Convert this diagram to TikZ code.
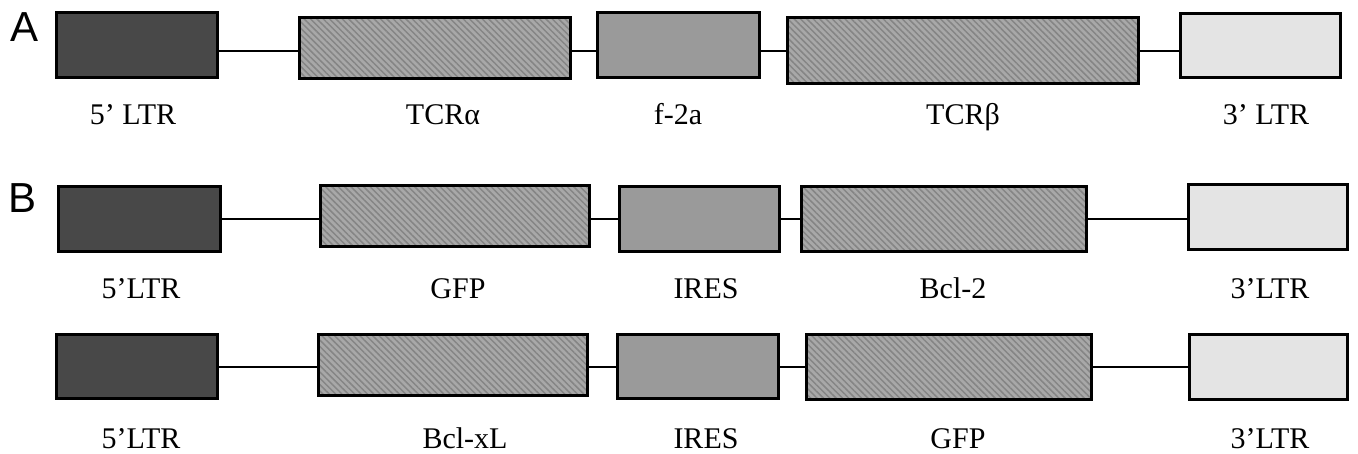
\documentclass[tikz,border=0pt]{standalone}
\usepackage{fontspec}
\setmainfont{Liberation Serif}
\newfontfamily\panelfont{Liberation Sans}
\usetikzlibrary{patterns.meta}
\definecolor{ltrdark}{HTML}{484848}
\definecolor{ltrlight}{HTML}{E4E4E4}
\definecolor{linker}{HTML}{9A9A9A}
\definecolor{genefill}{HTML}{A8A8A8}
\definecolor{genestripe}{HTML}{858585}
\tikzset{
  seg/.style={draw=black, line width=3pt, inner sep=0pt, outer sep=0pt},
  ltrfive/.style={seg, fill=ltrdark},
  ltrthree/.style={seg, fill=ltrlight},
  linkbox/.style={seg, fill=linker},
  genebox/.style={seg, preaction={fill=genefill},
    pattern={Lines[angle=-45,distance=4.5pt,line width=1.5pt]}, pattern color=genestripe},
  bx/.style n args={2}{minimum width=#1pt, minimum height=#2pt},
  link/.style={draw=black, line width=2.3pt},
  lbl/.style={font=\fontsize{30}{32}\selectfont, anchor=base, inner sep=0pt},
  panel/.style={font=\panelfont\fontsize{42}{44}\selectfont, inner sep=0pt}
}
\begin{document}
\begin{tikzpicture}[x=1pt,y=-1pt]
\useasboundingbox (0,0) rectangle (1358,453);

% panel letters
\node[panel] (pA) at (25,27) {A};
\node[panel] (pB) at (23,198) {B};

% ---- construct A ----
\node[ltrfive, bx={161}{65}] (a1) at (137,45) {};
\node[genebox, bx={271}{61}] (a2) at (435,48) {};
\node[linkbox, bx={162}{65}] (a3) at (678.5,45) {};
\node[genebox, bx={351}{66}] (a4) at (963,50.5) {};
\node[ltrthree, bx={160}{64}] (a5) at (1260.5,45.5) {};
\coordinate (yA) at (0,51);
\draw[link] (a1.east |- yA) -- (a2.west |- yA);
\draw[link] (a2.east |- yA) -- (a3.west |- yA);
\draw[link] (a3.east |- yA) -- (a4.west |- yA);
\draw[link] (a4.east |- yA) -- (a5.west |- yA);
\node[lbl] (la1) at (133,124) {5’ LTR};
\node[lbl] (la2) at (443,124) {TCRα};
\node[lbl] (la3) at (678,124) {f-2a};
\node[lbl] (la4) at (963,124) {TCRβ};
\node[lbl] (la5) at (1266,124) {3’ LTR};

% ---- construct B, first line ----
\node[ltrfive, bx={162}{65}] (b1) at (139.5,219) {};
\node[genebox, bx={269}{61}] (b2) at (455,216) {};
\node[linkbox, bx={160}{65}] (b3) at (699.5,219) {};
\node[genebox, bx={285}{65}] (b4) at (944,219) {};
\node[ltrthree, bx={159}{65}] (b5) at (1268,217) {};
\coordinate (yB) at (0,219);
\draw[link] (b1.east |- yB) -- (b2.west |- yB);
\draw[link] (b2.east |- yB) -- (b3.west |- yB);
\draw[link] (b3.east |- yB) -- (b4.west |- yB);
\draw[link] (b4.east |- yB) -- (b5.west |- yB);
\node[lbl] (lb1) at (141,298) {5’LTR};
\node[lbl] (lb2) at (458,298) {GFP};
\node[lbl] (lb3) at (706,298) {IRES};
\node[lbl] (lb4) at (953,298) {Bcl-2};
\node[lbl] (lb5) at (1270,298) {3’LTR};

% ---- construct B, second line ----
\node[ltrfive, bx={161}{64}] (c1) at (137,366.5) {};
\node[genebox, bx={269}{61}] (c2) at (453,365) {};
\node[linkbox, bx={161}{64}] (c3) at (698,366.5) {};
\node[genebox, bx={285}{65}] (c4) at (949,367) {};
\node[ltrthree, bx={158}{65}] (c5) at (1268.5,367) {};
\coordinate (yC) at (0,367);
\draw[link] (c1.east |- yC) -- (c2.west |- yC);
\draw[link] (c2.east |- yC) -- (c3.west |- yC);
\draw[link] (c3.east |- yC) -- (c4.west |- yC);
\draw[link] (c4.east |- yC) -- (c5.west |- yC);
\node[lbl] (lc1) at (141,448) {5’LTR};
\node[lbl] (lc2) at (465,448) {Bcl-xL};
\node[lbl] (lc3) at (706,448) {IRES};
\node[lbl] (lc4) at (958,448) {GFP};
\node[lbl] (lc5) at (1270,448) {3’LTR};
\end{tikzpicture}
\end{document}
